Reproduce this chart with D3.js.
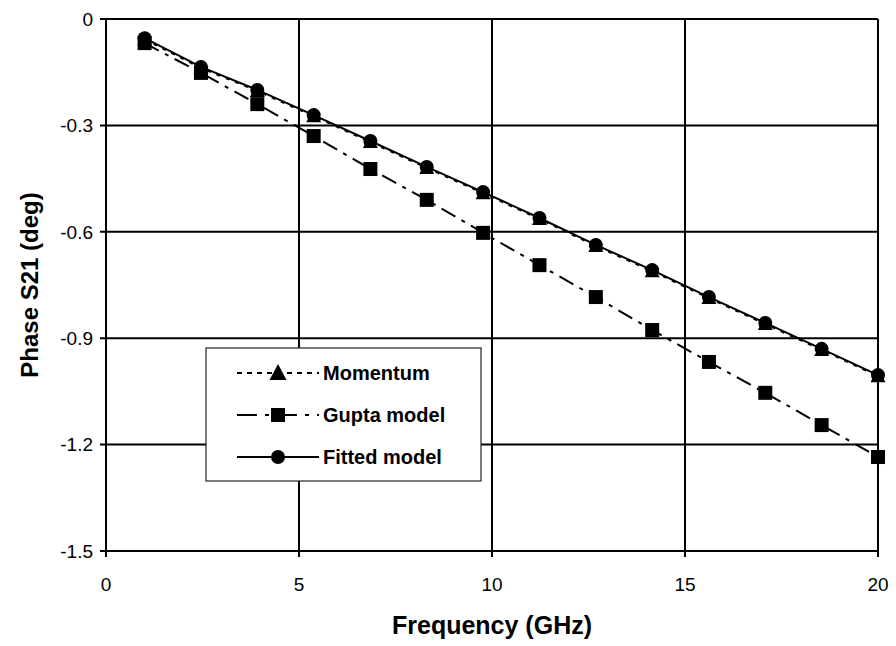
<!DOCTYPE html>
<html>
<head>
<meta charset="utf-8">
<script src="https://cdn.jsdelivr.net/npm/d3@7"></script>
<style>
  html, body { margin: 0; padding: 0; background: #fff; }
  svg { display: block; }
  text { font-family: "Liberation Sans", Arial, sans-serif; fill: #000; }
</style>
</head>
<body>
<svg id="chart" width="896" height="646"></svg>
<script>
// ---- data ----
const frequency = [1.0, 2.46, 3.92, 5.38, 6.85, 8.31, 9.77, 11.23, 12.69, 14.15, 15.62, 17.08, 18.54, 20.0];
const momentum  = [-0.057, -0.138, -0.203, -0.274, -0.347, -0.420, -0.491, -0.564, -0.640, -0.711, -0.787, -0.860, -0.933, -1.007];
const gupta     = [-0.068, -0.152, -0.240, -0.330, -0.423, -0.510, -0.603, -0.694, -0.784, -0.877, -0.967, -1.054, -1.145, -1.235];
const fitted    = [-0.054, -0.135, -0.200, -0.271, -0.344, -0.417, -0.488, -0.561, -0.637, -0.708, -0.784, -0.857, -0.930, -1.004];
const seriesNames = ["Momentum", "Gupta model", "Fitted model"];
const xTicks = [0, 5, 10, 15, 20];
const yTicks = [0, -0.3, -0.6, -0.9, -1.2, -1.5];
const xTitle = "Frequency (GHz)";
const yTitle = "Phase S21 (deg)";

// ---- layout ----
const svg = d3.select("#chart");
const plot = { left: 106, right: 878, top: 19, bottom: 551 };
const x = d3.scaleLinear().domain([0, 20]).range([plot.left, plot.right]);
const y = d3.scaleLinear().domain([-1.5, 0]).range([plot.bottom, plot.top]);

// grid
const g = svg.append("g");
g.selectAll("line.hgrid").data(yTicks).enter().append("line")
  .attr("x1", plot.left - 6).attr("x2", plot.right)
  .attr("y1", d => y(d)).attr("y2", d => y(d))
  .attr("stroke", "#000").attr("stroke-width", 2);
g.selectAll("line.vgrid").data(xTicks).enter().append("line")
  .attr("y1", plot.top).attr("y2", plot.bottom + 6)
  .attr("x1", d => x(d)).attr("x2", d => x(d))
  .attr("stroke", "#000").attr("stroke-width", 2);

// tick labels
const fmtY = d => d === 0 ? "0" : d.toFixed(1).replace("\u2212", "-");
g.selectAll("text.yt").data(yTicks).enter().append("text")
  .attr("x", plot.left - 13).attr("y", d => y(d)).attr("dy", "0.36em")
  .attr("text-anchor", "end").attr("font-size", 19).text(fmtY);
g.selectAll("text.xt").data(xTicks).enter().append("text")
  .attr("x", d => x(d)).attr("y", 591)
  .attr("text-anchor", "middle").attr("font-size", 19).text(d => d);

// titles
svg.append("text").attr("x", (plot.left + plot.right) / 2).attr("y", 634)
  .attr("text-anchor", "middle").attr("font-size", 25).attr("font-weight", "bold").text(xTitle);
svg.append("text").attr("transform", `translate(38,${(plot.top + plot.bottom) / 2}) rotate(-90)`)
  .attr("text-anchor", "middle").attr("font-size", 24).attr("font-weight", "bold").text(yTitle);

// series
const line = vals => d3.line().x((d, i) => x(frequency[i])).y(d => y(d))(vals);
const triangle = "M0,-8 L7.5,6 L-7.5,6 Z";

// Gupta
svg.append("path").attr("d", line(gupta)).attr("fill", "none")
  .attr("stroke", "#000").attr("stroke-width", 2).attr("stroke-dasharray", "16,7,4,7");
svg.selectAll("rect.gupta").data(gupta).enter().append("rect")
  .attr("x", (d, i) => x(frequency[i]) - 7).attr("y", d => y(d) - 7)
  .attr("width", 14).attr("height", 14).attr("fill", "#000");

// Momentum
svg.append("path").attr("d", line(momentum)).attr("fill", "none")
  .attr("stroke", "#000").attr("stroke-width", 2).attr("stroke-dasharray", "4,6");
svg.selectAll("path.mom").data(momentum).enter().append("path")
  .attr("d", triangle)
  .attr("transform", (d, i) => `translate(${x(frequency[i])},${y(d)})`).attr("fill", "#000");

// Fitted
svg.append("path").attr("d", line(fitted)).attr("fill", "none")
  .attr("stroke", "#000").attr("stroke-width", 2);
svg.selectAll("circle.fit").data(fitted).enter().append("circle")
  .attr("cx", (d, i) => x(frequency[i])).attr("cy", d => y(d)).attr("r", 7).attr("fill", "#000");

// legend
const lg = svg.append("g");
lg.append("rect").attr("x", 206).attr("y", 348).attr("width", 275).attr("height", 133)
  .attr("fill", "#fff").attr("stroke", "#222").attr("stroke-width", 1.2);
const rowsY = [373, 415, 457];
const dashes = ["5,5", "20,8,4,8", null];
seriesNames.forEach((name, i) => {
  const ly = rowsY[i];
  const l = lg.append("line").attr("x1", 237).attr("x2", 319).attr("y1", ly).attr("y2", ly)
    .attr("stroke", "#000").attr("stroke-width", 2);
  if (dashes[i]) l.attr("stroke-dasharray", dashes[i]);
  if (i === 0) lg.append("path").attr("d", "M0,-9 L8.5,7 L-8.5,7 Z").attr("transform", `translate(278,${ly})`).attr("fill", "#000");
  if (i === 1) lg.append("rect").attr("x", 271).attr("y", ly - 7).attr("width", 14).attr("height", 14).attr("fill", "#000");
  if (i === 2) lg.append("circle").attr("cx", 278).attr("cy", ly).attr("r", 7).attr("fill", "#000");
  lg.append("text").attr("x", 323).attr("y", ly).attr("dy", "0.36em")
    .attr("font-size", 20).attr("font-weight", "bold").text(name);
});
</script>
</body>
</html>
